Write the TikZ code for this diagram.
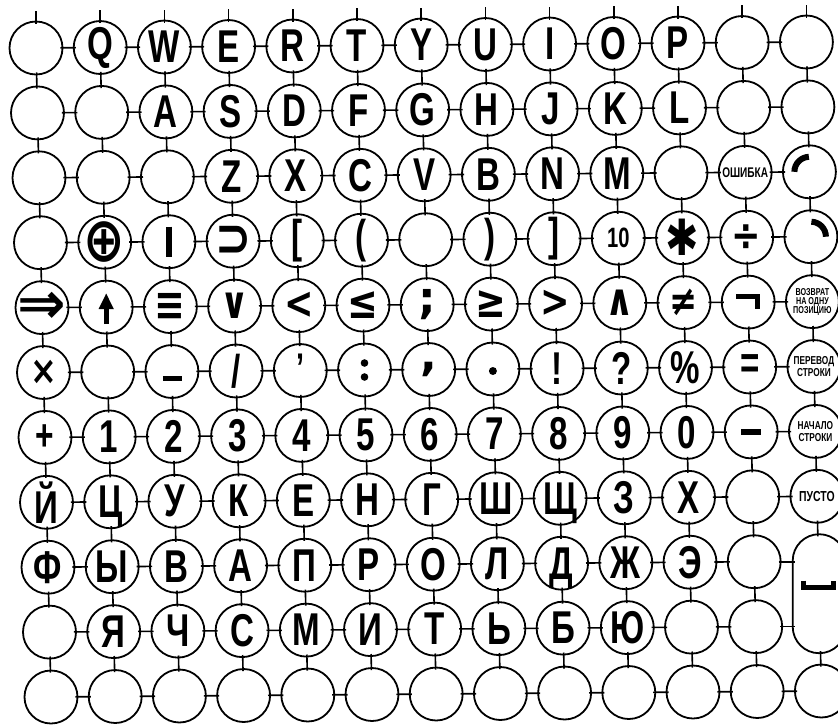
\documentclass[tikz,border=0pt]{standalone}
\usepackage{fontspec}
\setmainfont{Liberation Sans}
\newfontfamily\kf{Liberation Sans}[FakeStretch=0.72]
\newfontfamily\sy{DejaVu Sans}[FakeStretch=0.8]
\newfontfamily\syw{DejaVu Sans}
\usetikzlibrary{arrows.meta}
\newcommand\kSym[2]{{\sy\bfseries\fontsize{#1}{#1}\selectfont #2}}
\newcommand\kWide[2]{{\syw\bfseries\fontsize{#1}{#1}\selectfont #2}}
\newcommand\kSz[2]{{\fontsize{#1}{#1}\selectfont #2}}
\newcommand\kDn[1]{\raisebox{0pt}[\height][0pt]{#1}}
\newcommand\kLp{(}
\newcommand\kRp{)}
\newcommand\kLb{[}
\newcommand\kRb{]}
\newcommand\kCm{\kWide{44}{,}}
\begin{document}
\begin{tikzpicture}[x=1pt,y=-1pt,
  key/.style={circle,draw,line width=1.8pt,minimum size=53pt,inner sep=0pt},
  lbl/.style={inner sep=0pt,font=\kf\bfseries\fontsize{46}{46}\selectfont},
  conn/.style={line width=1.6pt,shorten <=-3pt,shorten >=-3pt},
  glyph/.style={line width=5pt},
  smalltext/.style 2 args={inner sep=0pt,align=center,font=\kf\bfseries\fontsize{#1}{#2}\selectfont}]
\fill[white] (0,0) rectangle (838,724);
\useasboundingbox (0,0) rectangle (838,724);
% keys
\foreach \row [count=\r from 0] in {
 {{},Q,W,E,R,T,Y,U,I,O,P,{},{}},
 {{},{},A,S,D,F,G,H,J,K,L,{},{}},
 {{},{},{},Z,X,C,V,B,N,M,{},{},{}},
 {{},\kSym{62}{⊕},{},\kSym{54}{⊃},\kLb,\kLp,{},\kRp,\kRb,\kSz{28}{10},\kSym{50}{✱},\kSym{44}{÷},{}},
 {\kWide{58}{⇒},{},\kSym{46}{≡},\kSym{44}{∨},\kSym{44}{<},\kSym{46}{≤},\kWide{44}{;},\kSym{46}{≥},\kSym{44}{>},\kSym{44}{∧},\kSym{42}{≠},{},{}},
 {\kSym{40}{×},{},{},/,{},{},\kCm,{},!,?,\%,=,{}},
 {\kSz{44}{+},1,2,3,4,5,6,7,8,9,0,{},{}},
 {Й,\kDn{Ц},У,К,Е,Н,Г,Ш,\kDn{Щ},З,Х,{},{}},
 {Ф,Ы,В,А,П,Р,О,Л,\kDn{Д},Ж,Э,{}},
 {{},Я,Ч,С,М,И,Т,Ь,Б,Ю,{},{}},
 {{},{},{},{},{},{},{},{},{},{},{},{},{}}}{
  \foreach \t [count=\c from 0] in \row {
    \pgfmathsetmacro\px{36+64.2*\c+1.5*\r}
    \pgfmathsetmacro\py{48+64.9*\r-0.5*\c}
    \node[key] (n-\r-\c) at (\px,\py) {};
    \ifx\t\empty\else\node[lbl] at (n-\r-\c) {\t};\fi
  }
}
% space key spanning two rows
\node[draw,line width=1.8pt,rounded corners=26.5pt,minimum width=53pt,minimum height=119pt,inner sep=0pt] (sp) at (819.2,593.7) {};
% text keys
\node[smalltext={14}{14}] at (n-2-11) {ОШИБКА};
\node[smalltext={10}{9}] at (n-4-12) {ВОЗВРАТ\\НА ОДНУ\\ПОЗИЦИЮ};
\node[smalltext={11.5}{12.5}] at (n-5-12) {ПЕРЕВОД\\СТРОКИ};
\node[smalltext={11.5}{12.5}] at (n-6-12) {НАЧАЛО\\СТРОКИ};
\node[smalltext={14.5}{14.5}] at (n-7-12) {ПУСТО};
\node[lbl,font=\kf\bfseries\fontsize{40}{40}\selectfont,yshift=3pt] at (n-5-4) {’};
% horizontal connectors
\foreach \r in {0,...,7,10}{
  \foreach \c [evaluate=\c as \d using int(\c+1)] in {0,...,11}{
    \draw[conn] (n-\r-\c) -- (n-\r-\d);
  }
}
\foreach \r in {8,9}{
  \foreach \c [evaluate=\c as \d using int(\c+1)] in {0,...,10}{
    \draw[conn] (n-\r-\c) -- (n-\r-\d);
  }
  \draw[conn] (n-\r-11) -- (n-\r-11 -| sp.west);
}
% vertical connectors
\foreach \c in {0,...,11}{
  \foreach \r [evaluate=\r as \d using int(\r+1)] in {0,...,9}{
    \draw[conn] (n-\r-\c) -- (n-\d-\c);
  }
}
\foreach \r [evaluate=\r as \d using int(\r+1)] in {0,...,6}{
  \draw[conn] (n-\r-12) -- (n-\d-12);
}
\draw[conn] (n-7-12) -- (sp);
\draw[conn] (sp) -- (n-10-12);
% stubs on top
\foreach \c in {0,...,12}{
  \coordinate (t-\c) at ([yshift=10pt]n-0-\c.north);
  \draw[conn,shorten >=0pt] (n-0-\c.north) -- (t-\c);
}
% drawn glyphs
\begin{scope}[x=1pt,y=1pt]
  \draw[glyph,line width=6pt] ([shift={(180:15)}]n-2-12.center) arc[start angle=180,end angle=92,radius=15];
  \draw[glyph,line width=6pt] ([shift={(88:15)}]n-3-12.center) arc[start angle=88,end angle=0,radius=15];
  \draw[glyph,line width=5.5pt] ([yshift=15pt]n-3-2.center) -- ([yshift=-15pt]n-3-2.center);
  \draw[glyph] ([shift={(-12,6)}]n-4-11.center) -- ++(21,0) -- ++(0,-13);
  \draw[glyph] ([shift={(-9,-7)}]n-5-2.center) -- ++(19,0);
  \fill ([yshift=7pt]n-5-5.center) circle[radius=3.8];
  \fill ([yshift=-7pt]n-5-5.center) circle[radius=3.8];
  \fill ([yshift=-2pt]n-5-7.center) circle[radius=4];
  \draw[glyph,line width=6pt] ([shift={(-10,0)}]n-6-11.center) -- ++(20,0);
  \draw[line width=5pt,-{Triangle[width=14pt,length=16pt]}] ([yshift=-17pt]n-4-1.center) -- ([yshift=14pt]n-4-1.center);
  \draw[glyph] ([shift={(-16,13)}]sp.center) -- ++(0,-7) -- ++(30,0) -- ++(0,7);
\end{scope}
\end{tikzpicture}
\end{document}
